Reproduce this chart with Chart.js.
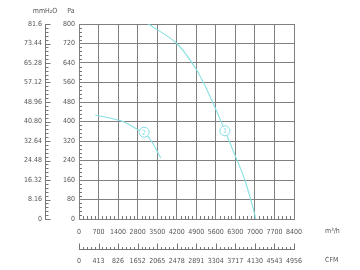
<!DOCTYPE html>
<html>
<head>
<meta charset="utf-8">
<script src="https://cdn.jsdelivr.net/npm/chart.js@4"></script>
<style>
html,body{margin:0;padding:0;background:#fff;}
#wrap{width:360px;height:270px;}
</style>
</head>
<body>
<div id="wrap"><canvas id="c" width="360" height="270"></canvas></div>
<script>
// Tick labels as printed on the reference (note: the original skips 2100 / 1239)
const flowTickLabels = ['0','700','1400','2800','3500','4200','4900','5600','6300','7000','7700','8400'];
const cfmTickLabels = ['0','413','826','1652','2065','2478','2891','3304','3717','4130','4543','4956'];
const paTicks = [0,80,160,240,320,400,480,560,640,720,800];
const mmTickLabels = ['0','8.16','16.32','24.48','32.64','40.80','48.96','57.12','65.28','73.44','81.6'];

// Curve 1 (flow in axis units where each grid step is 700, pressure in Pa)
const curve1Flow = [2486, 3500, 4214, 4750, 5225, 5582, 5939, 6296, 6320];
const curve1Pa   = [800, 720, 611, 488, 362, 263, 160, 18, 0];
// Curve 2
const curve2Flow = [582, 1593, 2129, 2332, 2607, 2929];
const curve2Pa   = [427, 399, 365, 356, 317, 250];
// Curve number markers
const markerFlow = [5225, 2332];
const markerPa   = [362, 356];
const markerText = ['1', '2'];

const FONT = "'Liberation Sans Narrow','DejaVu Sans Condensed','Liberation Sans',sans-serif";
const TXT = '#555';
const GRID = '#808080';
const CURVE = '#86e0e3';

function pts(xs, ys){ return xs.map((x,i)=>({x:x, y:ys[i]})); }

const decor = {
  id:'decor',
  afterDraw(chart){
    const ctx = chart.ctx;
    const s = chart.scales;
    const ca = chart.chartArea;
    ctx.save();
    ctx.strokeStyle = '#777';
    ctx.lineWidth = 1;
    ctx.beginPath();
    // Pa minor ticks (inward)
    for (let v = 0; v < 800; v += 16){
      if (v % 80 === 0) continue;
      const y = Math.round(s.y.getPixelForValue(v)) + 0.5;
      ctx.moveTo(ca.left, y); ctx.lineTo(ca.left + 3, y);
    }
    // flow minor ticks (upward)
    for (let i = 0; i < 11*5; i++){
      if (i % 5 === 0) continue;
      const x = Math.round(s.x.getPixelForValue(i*140)) + 0.5;
      ctx.moveTo(x, ca.bottom); ctx.lineTo(x, ca.bottom - 3);
    }
    // mmH2O ticks
    const y2 = s.y2, ax = Math.round(y2.right) + 0.5;
    for (let i = 0; i <= 50; i++){
      const y = Math.round(y2.getPixelForValue(i*1.632)) + 0.5;
      const len = (i % 5 === 0) ? 5 : 3;
      ctx.moveTo(ax, y); ctx.lineTo(ax + len, y);
    }
    // CFM ticks
    const x2 = s.x2, ay = Math.round(x2.top) + 0.5;
    for (let i = 0; i <= 55; i++){
      const x = Math.round(x2.getPixelForValue(i*82.6)) + 0.5;
      const len = (i % 5 === 0) ? 6 : 2.5;
      ctx.moveTo(x, ay); ctx.lineTo(x, ay - len);
    }
    ctx.stroke();

    // unit titles
    ctx.fillStyle = TXT;
    ctx.font = "7px " + FONT;
    ctx.textBaseline = 'middle';
    ctx.textAlign = 'center';
    ctx.fillText('mmH\u2082O', 45, 11);
    ctx.fillText('Pa', 71, 11);
    ctx.textAlign = 'left';
    ctx.fillText('m\u00B3/h', 325, 231.5);
    ctx.fillText('CFM', 325, 260.5);

    // marker numbers
    const meta = chart.getDatasetMeta(0);
    ctx.fillStyle = CURVE;
    ctx.textAlign = 'center';
    ctx.font = "7px " + FONT;
    meta.data.forEach((p, i) => {
      ctx.fillText(markerText[i], p.x, p.y + 0.5);
    });
    ctx.restore();
  }
};

new Chart(document.getElementById('c'), {
  type: 'line',
  data: {
    datasets: [
      {
        type: 'scatter',
        data: pts(markerFlow, markerPa),
        pointStyle: 'circle',
        pointRadius: 5,
        pointBorderWidth: 1,
        pointBorderColor: CURVE,
        pointBackgroundColor: '#fff',
        showLine: false
      },
      {
        data: pts(curve1Flow, curve1Pa),
        borderColor: CURVE, borderWidth: 1.1, pointRadius: 0,
        tension: 0.35, fill: false
      },
      {
        data: pts(curve2Flow, curve2Pa),
        borderColor: CURVE, borderWidth: 1.1, pointRadius: 0,
        tension: 0.35, fill: false
      }
    ]
  },
  options: {
    responsive: false,
    animation: false,
    devicePixelRatio: 1,
    layout: { padding: { left: 0, right: 66, top: 24, bottom: 1 } },
    plugins: { legend: { display: false }, tooltip: { enabled: false } },
    scales: {
      x: {
        type: 'linear', position: 'bottom', weight: 0,
        min: 0, max: 7700,
        afterBuildTicks: sc => { sc.ticks = flowTickLabels.map((_, i) => ({ value: i*700 })); },
        afterFit: sc => { sc.height = 30; },
        grid: { color: GRID, lineWidth: 1, drawTicks: false },
        border: { color: GRID },
        ticks: {
          autoSkip: false, maxRotation: 0, padding: 9, color: TXT,
          font: { family: FONT, size: 7 },
          callback: (v, i) => flowTickLabels[i]
        }
      },
      x2: {
        type: 'linear', position: 'bottom', weight: 1,
        min: 0, max: 4543,
        afterBuildTicks: sc => { sc.ticks = cfmTickLabels.map((_, i) => ({ value: i*413 })); },
        afterFit: sc => { sc.height = 20; },
        grid: { drawOnChartArea: false, drawTicks: false },
        border: { color: '#777' },
        ticks: {
          autoSkip: false, maxRotation: 0, padding: 8, color: TXT,
          font: { family: FONT, size: 7 },
          callback: (v, i) => cfmTickLabels[i]
        }
      },
      y: {
        type: 'linear', position: 'left', weight: 0,
        min: 0, max: 800,
        afterBuildTicks: sc => { sc.ticks = paTicks.map(v => ({ value: v })); },
        afterFit: sc => { sc.width = 34; },
        grid: { color: GRID, lineWidth: 1, drawTicks: false },
        border: { color: GRID },
        ticks: {
          padding: 4, color: TXT, font: { family: FONT, size: 7 },
          callback: (v) => String(v)
        }
      },
      y2: {
        type: 'linear', position: 'left', weight: 1,
        min: 0, max: 81.6,
        afterBuildTicks: sc => { sc.ticks = mmTickLabels.map(t => ({ value: parseFloat(t) })); },
        afterFit: sc => { sc.width = 45; },
        grid: { drawOnChartArea: false, drawTicks: false },
        border: { color: '#777' },
        ticks: {
          padding: 3, color: TXT, font: { family: FONT, size: 7 },
          callback: (v, i) => mmTickLabels[i]
        }
      }
    }
  },
  plugins: [decor]
});
</script>
</body>
</html>
